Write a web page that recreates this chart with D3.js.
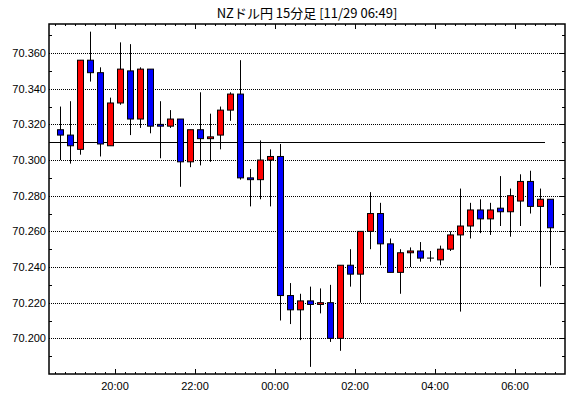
<!DOCTYPE html>
<html>
<head>
<meta charset="utf-8">
<script src="https://cdn.jsdelivr.net/npm/d3@7"></script>
<style>
  body { margin: 0; background: #fff; }
  svg { display: block; }
</style>
</head>
<body>
<div id="chart"></div>
<script>
// chart data (15 minute candles, 18:30 -> 06:45)
let opens  = [70.317, 70.314, 70.306, 70.356, 70.349, 70.308, 70.332, 70.350, 70.323, 70.351,
              70.320, 70.319, 70.323, 70.299, 70.317, 70.312, 70.314, 70.328, 70.337, 70.290,
              70.289, 70.300, 70.302, 70.224, 70.216, 70.221, 70.219, 70.220, 70.200, 70.241,
              70.236, 70.260, 70.270, 70.253, 70.237, 70.248, 70.249, 70.245, 70.244, 70.250,
              70.258, 70.263, 70.272, 70.267, 70.273, 70.271, 70.277, 70.288, 70.274, 70.278];
let highs  = [70.330, 70.333, 70.356, 70.372, 70.352, 70.335, 70.366, 70.365, 70.352, 70.351,
              70.333, 70.328, 70.323, 70.317, 70.338, 70.326, 70.330, 70.338, 70.356, 70.295,
              70.311, 70.306, 70.309, 70.231, 70.225, 70.229, 70.228, 70.230, 70.241, 70.250,
              70.260, 70.282, 70.276, 70.256, 70.250, 70.251, 70.254, 70.249, 70.252, 70.260,
              70.284, 70.276, 70.278, 70.276, 70.291, 70.284, 70.292, 70.294, 70.284, 70.278];
let lows   = [70.300, 70.298, 70.303, 70.344, 70.302, 70.308, 70.331, 70.314, 70.318, 70.315,
              70.301, 70.318, 70.285, 70.296, 70.297, 70.299, 70.306, 70.322, 70.289, 70.274,
              70.278, 70.274, 70.210, 70.208, 70.199, 70.184, 70.214, 70.198, 70.193, 70.229,
              70.220, 70.250, 70.241, 70.237, 70.225, 70.240, 70.243, 70.243, 70.241, 70.249,
              70.215, 70.256, 70.259, 70.258, 70.263, 70.257, 70.263, 70.270, 70.229, 70.241];
let closes = [70.314, 70.308, 70.356, 70.349, 70.309, 70.332, 70.351, 70.323, 70.351, 70.319,
              70.319, 70.323, 70.299, 70.317, 70.312, 70.313, 70.328, 70.337, 70.290, 70.289,
              70.300, 70.302, 70.224, 70.216, 70.221, 70.219, 70.220, 70.200, 70.241, 70.236,
              70.260, 70.270, 70.253, 70.237, 70.248, 70.249, 70.245, 70.245, 70.250, 70.258,
              70.263, 70.272, 70.267, 70.272, 70.271, 70.280, 70.288, 70.274, 70.278, 70.262];

let refLevel = 70.310;
let yTicks = [70.200, 70.220, 70.240, 70.260, 70.280, 70.300, 70.320, 70.340, 70.360];
let yMinorTicks = [70.190, 70.210, 70.230, 70.250, 70.270, 70.290, 70.310, 70.330, 70.350, 70.370];
let xTickLabels = ["20:00", "22:00", "00:00", "02:00", "04:00", "06:00"];
let title = "NZドル円 15分足 [11/29 06:49]";

// layout
const width = 570, height = 398;
const plotLeft = 49, plotRight = 565, plotTop = 24, plotBottom = 374;

let parse = d3.timeParse("%Y-%m-%d %H:%M");
let firstCandle = parse("2023-11-28 18:30");
let times = d3.timeMinute.every(15).range(firstCandle, d3.timeMinute.offset(firstCandle, 15 * opens.length));
let candles = times.map((t, i) => ({t: t, o: opens[i], h: highs[i], l: lows[i], c: closes[i]}));

let svg = d3.select("#chart")
    .append("svg")
    .attr("width", width)
    .attr("height", height);

// scales
let x = d3.scaleTime()
    .domain([parse("2023-11-28 18:21"), parse("2023-11-29 07:15")])
    .range([plotLeft, plotRight]);
let y = d3.scaleLinear()
    .domain([70.18, 70.3763])
    .range([plotBottom, plotTop]);

let tickDates = xTickLabels.map(s => {
    let d = s < "12:00" ? "2023-11-29 " : "2023-11-28 ";
    return parse(d + s);
});
let minorDates = d3.timeMinute.every(15).range(x.domain()[0], x.domain()[1]);

// gridlines
svg.append("g")
    .selectAll("line")
    .data(yTicks)
    .enter()
    .append("line")
    .attr("x1", plotLeft).attr("x2", plotRight)
    .attr("y1", d => Math.round(y(d)) + 0.5)
    .attr("y2", d => Math.round(y(d)) + 0.5)
    .attr("stroke", "#000")
    .attr("stroke-dasharray", "1,1");

// reference line
svg.append("line")
    .attr("x1", plotLeft)
    .attr("x2", x(times[times.length - 1]))
    .attr("y1", Math.round(y(refLevel)) + 0.5)
    .attr("y2", Math.round(y(refLevel)) + 0.5)
    .attr("stroke", "#000")
    .attr("stroke-width", 1);

// inner ticks on all sides
let ticks = svg.append("g").attr("stroke", "#000");
minorDates.forEach(d => {
    let xx = Math.round(x(d)) + 0.5;
    ticks.append("line").attr("x1", xx).attr("x2", xx).attr("y1", plotBottom).attr("y2", plotBottom - 2);
    ticks.append("line").attr("x1", xx).attr("x2", xx).attr("y1", plotTop).attr("y2", plotTop + 2);
});
tickDates.forEach(d => {
    let xx = Math.round(x(d)) + 0.5;
    ticks.append("line").attr("x1", xx).attr("x2", xx).attr("y1", plotBottom).attr("y2", plotBottom - 5);
    ticks.append("line").attr("x1", xx).attr("x2", xx).attr("y1", plotTop).attr("y2", plotTop + 5);
});
yMinorTicks.forEach(v => {
    let yy = Math.round(y(v)) + 0.5;
    ticks.append("line").attr("x1", plotLeft).attr("x2", plotLeft + 3).attr("y1", yy).attr("y2", yy);
    ticks.append("line").attr("x1", plotRight).attr("x2", plotRight - 3).attr("y1", yy).attr("y2", yy);
});
yTicks.forEach(v => {
    let yy = Math.round(y(v)) + 0.5;
    ticks.append("line").attr("x1", plotRight).attr("x2", plotRight - 5).attr("y1", yy).attr("y2", yy);
});

// candles
let bw = 7;
let g = svg.append("g");
g.selectAll(".wick")
    .data(candles)
    .enter()
    .append("line")
    .attr("class", "wick")
    .attr("x1", d => Math.round(x(d.t) + 5) + 0.5)
    .attr("x2", d => Math.round(x(d.t) + 5) + 0.5)
    .attr("y1", d => y(d.h))
    .attr("y2", d => y(d.l))
    .attr("stroke", "#000");

g.selectAll(".body")
    .data(candles.filter(d => d.o != d.c))
    .enter()
    .append("rect")
    .attr("class", "body")
    .attr("x", d => Math.round(x(d.t) + 5) - 3 + 0.5)
    .attr("y", d => y(Math.max(d.o, d.c)))
    .attr("width", bw - 1)
    .attr("height", d => Math.abs(y(d.o) - y(d.c)))
    .attr("fill", d => d.c > d.o ? "#ff0000" : "#0000ff")
    .attr("stroke", "#000");

// doji
g.selectAll(".doji")
    .data(candles.filter(d => d.o == d.c))
    .enter()
    .append("line")
    .attr("x1", d => Math.round(x(d.t) + 5) - 3)
    .attr("x2", d => Math.round(x(d.t) + 5) + 4)
    .attr("y1", d => y(d.o))
    .attr("y2", d => y(d.o))
    .attr("stroke", "#000");

// frame
svg.append("rect")
    .attr("x", plotLeft).attr("y", plotTop)
    .attr("width", plotRight - plotLeft).attr("height", plotBottom - plotTop)
    .attr("fill", "none")
    .attr("stroke", "#000")
    .attr("stroke-width", 1.5);

// y labels
svg.append("g")
    .selectAll("text")
    .data(yTicks)
    .enter()
    .append("text")
    .attr("x", plotLeft - 3)
    .attr("y", d => y(d))
    .attr("dy", "0.36em")
    .attr("text-anchor", "end")
    .style("font-family", "'Liberation Sans', Arial, sans-serif")
    .style("font-size", "11px")
    .text(d => d3.format(".3f")(d));

// x labels
svg.append("g")
    .selectAll("text")
    .data(tickDates)
    .enter()
    .append("text")
    .attr("x", d => x(d))
    .attr("y", 390)
    .attr("text-anchor", "middle")
    .style("font-family", "'Liberation Sans', Arial, sans-serif")
    .style("font-size", "11px")
    .text((d, i) => xTickLabels[i]);

// title
svg.append("text")
    .attr("x", (plotLeft + plotRight) / 2)
    .attr("y", 18)
    .attr("text-anchor", "middle")
    .style("font-family", "'Noto Sans CJK JP', sans-serif")
    .style("font-size", "13px")
    .text(title);
</script>
</body>
</html>
